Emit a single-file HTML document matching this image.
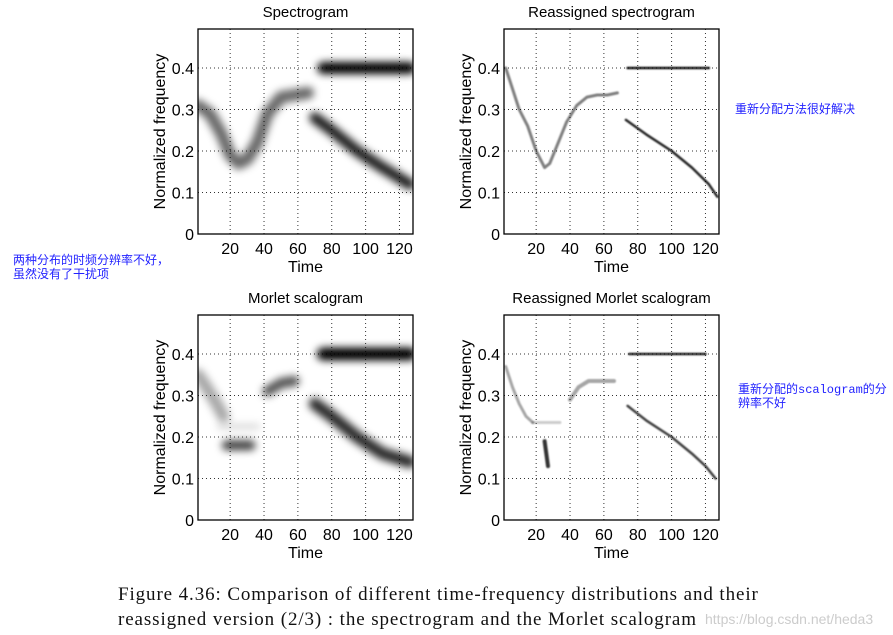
<!DOCTYPE html>
<html><head><meta charset="utf-8">
<style>
body{margin:0;background:#fff;width:893px;height:635px;overflow:hidden;position:relative;font-family:"Liberation Sans",sans-serif}
.cap{position:absolute;left:118px;font-family:"Liberation Serif",serif;font-size:19px;letter-spacing:0.9px;color:#111;white-space:nowrap}
.note{position:absolute;font-family:"Liberation Mono","Noto Sans CJK SC",monospace;font-size:12px;color:#2222ff;white-space:nowrap;line-height:14px}
</style></head><body>
<svg id="fig" width="893" height="580" style="position:absolute;left:0;top:0">
<defs>
<filter id="b1" filterUnits="userSpaceOnUse" x="0" y="0" width="893" height="580"><feGaussianBlur stdDeviation="4"/></filter>
<filter id="b2" filterUnits="userSpaceOnUse" x="0" y="0" width="893" height="580"><feGaussianBlur stdDeviation="0.9"/></filter>
</defs>
</svg>
<div class="note" style="left:13px;top:254px">两种分布的时频分辨率不好，<br>虽然没有了干扰项</div>
<div class="note" style="left:735px;top:103px">重新分配方法很好解决</div>
<div class="note" style="left:738px;top:383px">重新分配的scalogram的分<br>辨率不好</div>
<div class="cap" style="top:584px">Figure 4.36: Comparison of different time-frequency distributions and their</div>
<div class="cap" style="top:609px">reassigned version (2/3) : the spectrogram and the Morlet scalogram</div>
<div style="position:absolute;left:705px;top:611px;font-size:14px;color:#ccc">https://blog.csdn.net/heda3</div>
<script>
const xTicks=[20,40,60,80,100,120];
const yTicks=[0,0.1,0.2,0.3,0.4];
const titles=["Spectrogram","Reassigned spectrogram","Morlet scalogram","Reassigned Morlet scalogram"];
const specT1=[1,8,15,20,25,30,36,42,50,58,66];
const specF1=[0.31,0.29,0.24,0.19,0.17,0.18,0.22,0.29,0.33,0.335,0.34];
const specT2=[75,126];const specF2=[0.4,0.4];
const specT3=[70,80,95,110,126];const specF3=[0.28,0.25,0.2,0.16,0.12];
const reT1=[2,6,10,15,20,25,28,32,38,44,50,56,62,68];
const reF1=[0.40,0.35,0.30,0.26,0.20,0.16,0.17,0.21,0.27,0.31,0.33,0.335,0.335,0.34];
const reT2=[74,122];const reF2=[0.4,0.4];
const reT3=[73,85,100,112,122,127];const reF3=[0.275,0.24,0.20,0.16,0.12,0.09];
const moT1=[1,6,12,16];const moF1=[0.35,0.32,0.28,0.25];
const moT2=[14,36];const moF2=[0.225,0.225];
const moT3=[18,32];const moF3=[0.18,0.18];
const moT4=[42,50,58];const moF4=[0.31,0.33,0.335];
const moT5=[75,126];const moF5=[0.4,0.4];
const moT6=[70,80,95,110,126];const moF6=[0.28,0.25,0.2,0.16,0.14];
const rmT1=[2,6,10,14,18];const rmF1=[0.37,0.32,0.28,0.25,0.235];
const rmT2=[18,34];const rmF2=[0.235,0.235];
const rmT3=[25,26,27];const rmF3=[0.19,0.16,0.13];
const rmT4=[40,45,51,66];const rmF4=[0.29,0.32,0.335,0.335];
const rmT5=[75,120];const rmF5=[0.4,0.4];
const rmT6=[74,85,100,112,120,126];const rmF6=[0.275,0.24,0.2,0.16,0.13,0.1];
const panels=[
 {x:198,y:29,series:[[specT1,specF1,12,0.6],[specT2,specF2,12,1],[specT3,specF3,11,0.9]],blur:'b1'},
 {x:504,y:29,series:[[reT1,reF1,3,0.5],[reT2,reF2,2.5,0.9],[reT3,reF3,2.5,0.85]],blur:'b2'},
 {x:198,y:315,series:[[moT1,moF1,12,0.35],[moT2,moF2,6,0.15],[moT3,moF3,10,0.75],[moT4,moF4,10,0.7],[moT5,moF5,13,1],[moT6,moF6,12,0.85]],blur:'b1'},
 {x:504,y:315,series:[[rmT1,rmF1,3,0.35],[rmT2,rmF2,3,0.2],[rmT3,rmF3,4,0.8],[rmT4,rmF4,4,0.35],[rmT5,rmF5,2.5,0.85],[rmT6,rmF6,2.5,0.75]],blur:'b2'}
];
const NS='http://www.w3.org/2000/svg';
const svg=document.getElementById('fig');
function mk(tag,at,parent){const e=document.createElementNS(NS,tag);for(const k in at)e.setAttribute(k,at[k]);(parent||svg).appendChild(e);return e;}
const W=215,H=205;
panels.forEach((p,i)=>{
 const xs=t=>p.x+(t-1)*W/127;
 const ys=f=>p.y+H-f*H/0.494;
 const g=mk('g',{});
 
 
 const cp=mk('clipPath',{id:'c'+i},g);mk('rect',{x:p.x,y:p.y,width:W,height:H},cp);
 const dg=mk('g',{'clip-path':'url(#c'+i+')'},g);
 p.series.forEach((s,j)=>{
  const pts=s[0].map((t,k)=>xs(t).toFixed(1)+','+ys(s[1][k]).toFixed(1)).join(' ');
  const pl=mk('polyline',{points:pts,fill:'none',stroke:'#000','stroke-width':s[2],'stroke-opacity':s[3],'stroke-linecap':'round','stroke-linejoin':'round',filter:'url(#'+p.blur+')'},dg);
  
  
 });
 xTicks.forEach(t=>{
  const l=mk('line',{x1:xs(t),x2:xs(t),y1:p.y,y2:p.y+H,stroke:'#000','stroke-width':1,'stroke-dasharray':'1,3','stroke-opacity':0.8},g);
  
  
  const tx=mk('text',{x:xs(t),y:p.y+H+20,'text-anchor':'middle','font-size':16},g);tx.textContent=t;
  
  
 });
 yTicks.forEach(f=>{
  if(f>0){const l=mk('line',{x1:p.x,x2:p.x+W,y1:ys(f),y2:ys(f),stroke:'#000','stroke-width':1,'stroke-dasharray':'1,3','stroke-opacity':0.8},g);
  
  }
  const tx=mk('text',{x:p.x-4,y:ys(f)+6,'text-anchor':'end','font-size':16},g);tx.textContent=f;
  
  
 });
 const bx=mk('rect',{x:p.x,y:p.y,width:W,height:H,fill:'none',stroke:'#000','stroke-width':1.3},g);
 
 
 const ti=mk('text',{x:p.x+W/2,y:p.y-12,'text-anchor':'middle','font-size':15},g);ti.textContent=titles[i];
 
 
 const xl=mk('text',{x:p.x+W/2,y:p.y+H+38,'text-anchor':'middle','font-size':16},g);xl.textContent='Time';
 
 
 const yl=mk('text',{x:0,y:0,'text-anchor':'middle','font-size':16,transform:'translate('+(p.x-33)+','+(p.y+H/2)+') rotate(-90)'},g);yl.textContent='Normalized frequency';
 
 
});
</script>
</body></html>
